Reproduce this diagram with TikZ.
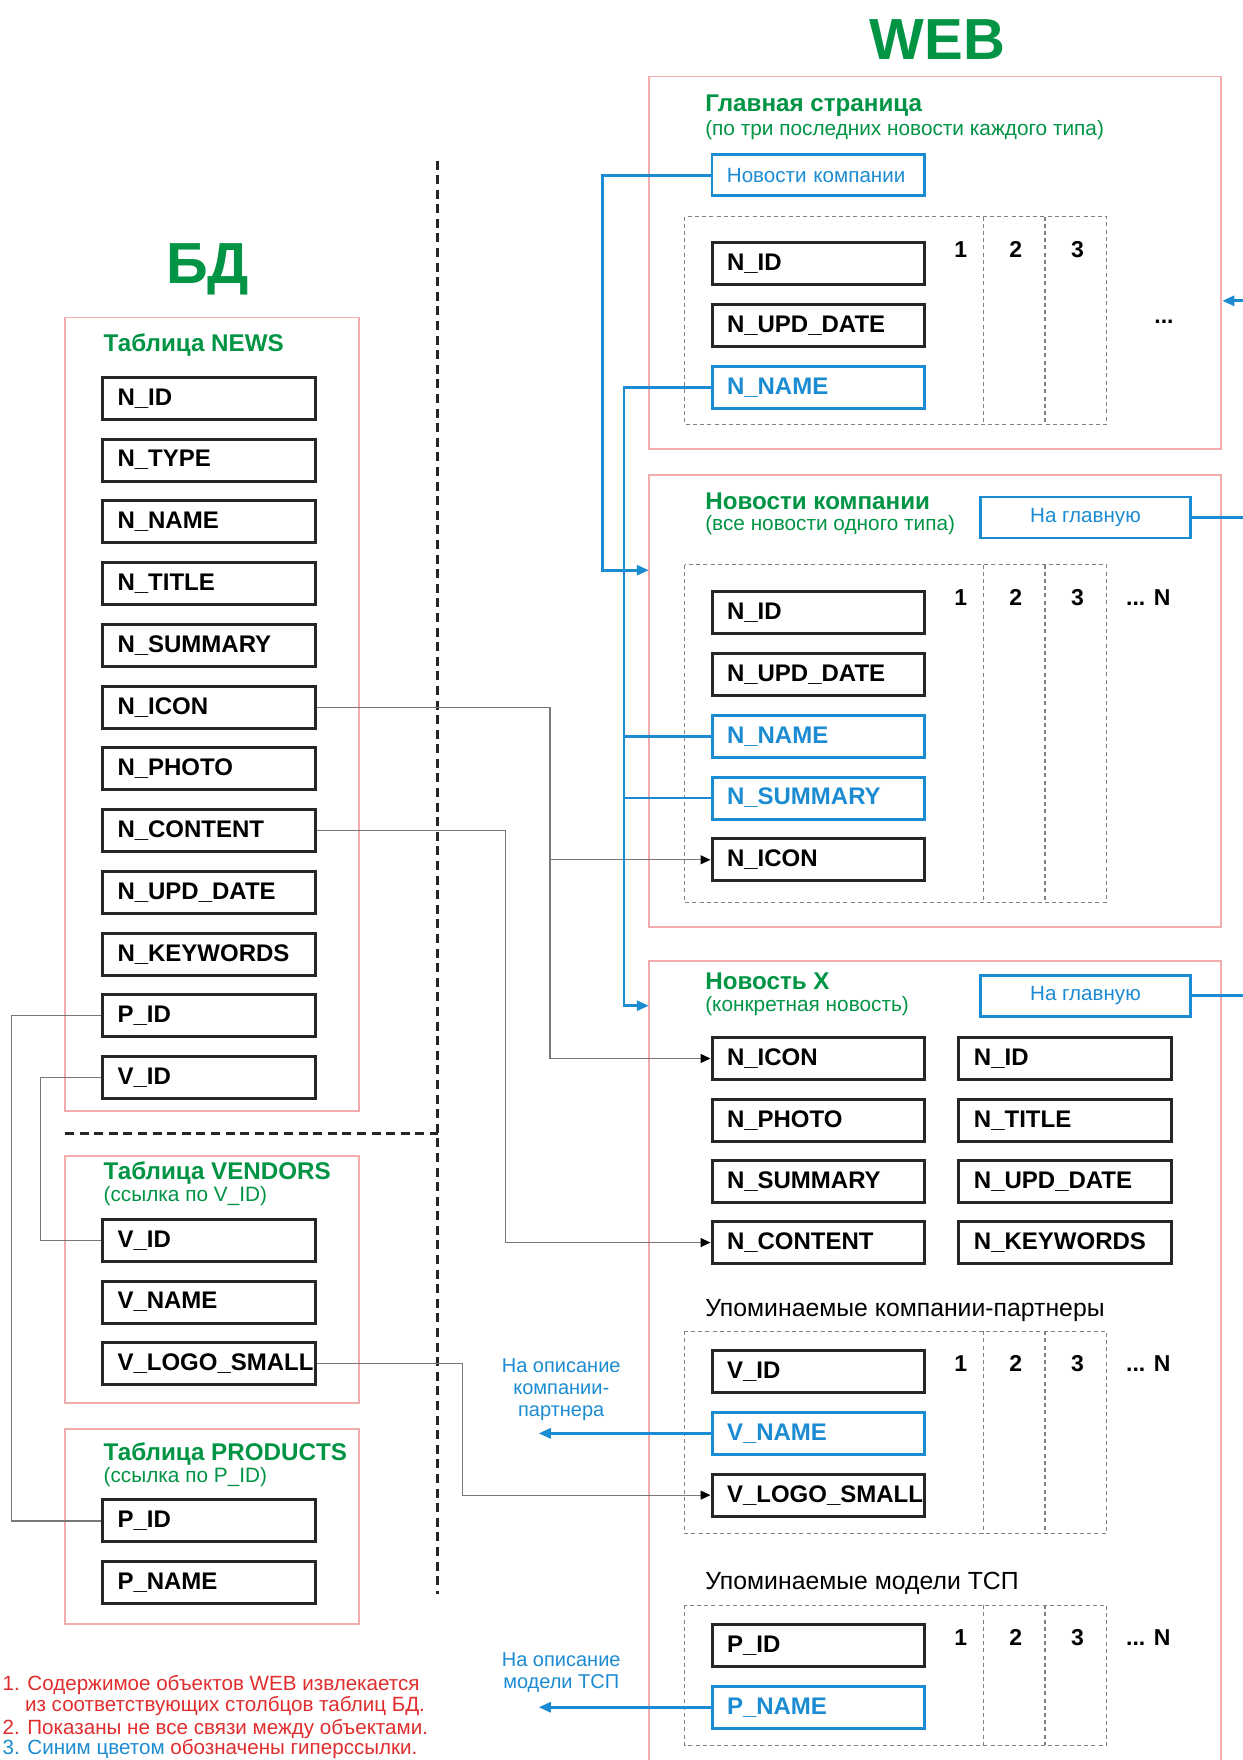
\documentclass[tikz,border=0pt]{standalone}
\usepackage{fontspec}
\setmainfont{Liberation Sans}
\usetikzlibrary{arrows.meta}
\definecolor{dgreen}{RGB}{0,148,68}
\definecolor{pinkb}{RGB}{242,172,172}
\definecolor{lblue}{RGB}{28,140,210}
\definecolor{nred}{RGB}{225,45,45}
\definecolor{gline}{RGB}{120,120,120}
\tikzset{
  fld/.style={draw=black!85, line width=1.5pt, minimum width=106.3pt, minimum height=21pt, inner xsep=7.5pt, inner ysep=0pt, text width=91.3pt, align=left, font=\fontsize{12}{13}\selectfont\bfseries, anchor=west},
  bfld/.style={fld, draw=lblue, text=lblue},
  btn/.style={draw=lblue, line width=1.4pt, minimum width=105.3pt, minimum height=20.5pt, inner ysep=0pt, text=lblue, font=\fontsize{10.3}{12}\selectfont, anchor=west},
  pinkbox/.style={draw=pinkb, line width=0.8pt},
  grp/.style={draw=gray, line width=0.6pt, dash pattern=on 2pt off 1.6pt},
  sepline/.style={draw=black!85, line width=1.6pt, dash pattern=on 4.5pt off 2.8pt},
  ttl/.style={text=dgreen, font=\fontsize{12.1}{13}\selectfont\bfseries, anchor=west, inner sep=0pt},
  sub/.style={text=dgreen, font=\fontsize{10.4}{12}\selectfont, anchor=west, inner sep=0pt},
  blk/.style={text=black, font=\fontsize{12.4}{14}\selectfont, anchor=west, inner sep=0pt},
  num/.style={font=\fontsize{11.5}{13}\selectfont\bfseries, inner sep=0pt},
  note/.style={text=nred, font=\fontsize{10.3}{11}\selectfont, anchor=west, inner sep=0pt},
  btxt/.style={text=lblue, font=\fontsize{10}{11}\selectfont, align=center, inner sep=0pt},
  gl/.style={draw=gline, line width=0.6pt},
  gla/.style={gl, -{Triangle[length=5pt,width=4.5pt,color=black]}},
  bl/.style={draw=lblue, line width=1.4pt},
  bla/.style={bl, -{Triangle[length=6pt,width=5pt]}},
  bigt/.style={text=dgreen, font=\fontsize{29}{32}\selectfont\bfseries}
}
\begin{document}
\begin{tikzpicture}[x=0.56145pt, y=-0.56145pt]
\useasboundingbox[fill=white] (0,0) rectangle (1107,1568);

% ---------- titles ----------
\node[bigt] (tbd) at (185,240) {БД};
\node[bigt] (tweb) at (835,35) {WEB};

% ---------- separators ----------
\draw[sepline] (390,143) -- (390,1420);
\draw[sepline] (58,1010) -- (390,1010);

% ---------- DB: NEWS ----------
\draw[pinkbox] (58,283) rectangle (320,990);
\node[ttl] (tnews) at (92,307) {Таблица NEWS};
\node[fld] (dnid)   at (90,355) {N\_ID};
\node[fld] (dntype) at (90,410) {N\_TYPE};
\node[fld] (dnname) at (90,465) {N\_NAME};
\node[fld] (dntitle) at (90,520) {N\_TITLE};
\node[fld] (dnsum)  at (90,575) {N\_SUMMARY};
\node[fld] (dnicon) at (90,630) {N\_ICON};
\node[fld] (dnphoto) at (90,685) {N\_PHOTO};
\node[fld] (dncont) at (90,740) {N\_CONTENT};
\node[fld] (dnupd)  at (90,795) {N\_UPD\_DATE};
\node[fld] (dnkey)  at (90,850) {N\_KEYWORDS};
\node[fld] (dnpid)  at (90,905) {P\_ID};
\node[fld] (dnvid)  at (90,960) {V\_ID};

% ---------- DB: VENDORS ----------
\draw[pinkbox] (58,1030) rectangle (320,1250);
\node[ttl] (tvend) at (92,1045) {Таблица VENDORS};
\node[sub] (svend) at (92,1066) {(ссылка по V\_ID)};
\node[fld] (vvid)   at (90,1105) {V\_ID};
\node[fld] (vvname) at (90,1160) {V\_NAME};
\node[fld] (vvlogo) at (90,1215) {V\_LOGO\_SMALL};

% ---------- DB: PRODUCTS ----------
\draw[pinkbox] (58,1273) rectangle (320,1447);
\node[ttl] (tprod) at (92,1295) {Таблица PRODUCTS};
\node[sub] (sprod) at (92,1316) {(ссылка по P\_ID)};
\node[fld] (ppid)   at (90,1355) {P\_ID};
\node[fld] (ppname) at (90,1410) {P\_NAME};

% ---------- notes ----------
\node[note] (n1a) at (2,1501) {1. Содержимое объектов WEB извлекается};
\node[note] (n1b) at (22,1520) {из соответствующих столбцов таблиц БД.};
\node[note] (n2)  at (2,1540) {2. Показаны не все связи между объектами.};
\node[note] (n3)  at (2,1558) {\textcolor{lblue}{3. Синим цветом} обозначены гиперссылки.};

% ---------- WEB: main page ----------
\draw[pinkbox] (578,68) rectangle (1088,400);
\node[ttl] (tmain) at (628,94) {Главная страница};
\node[sub] (smain) at (628,116) {(по три последних новости каждого типа)};
\node[btn, text width=91.3pt, inner xsep=7.5pt, align=left, minimum width=106.3pt] (btnnews) at (633,156) {Новости компании};
\draw[grp] (610,193) rectangle (986,378);
\draw[grp] (876,193) -- (876,378);
\draw[grp] (931,193) -- (931,378);
\node[fld]  (mnid)   at (633,235) {N\_ID};
\node[fld]  (mnupd)  at (633,290) {N\_UPD\_DATE};
\node[bfld] (mnname) at (633,345) {N\_NAME};
\node[num] (m1) at (856,222) {1};
\node[num] (m2) at (905,222) {2};
\node[num] (m3) at (960,222) {3};
\node[num] (mdots) at (1037,287) {...};

% ---------- WEB: news list ----------
\draw[pinkbox] (578,423) rectangle (1088,826);
\node[ttl] (tlist) at (628,447) {Новости компании};
\node[sub] (slist) at (628,468) {(все новости одного типа)};
\node[btn] (home1) at (872,461) {На главную};
\draw[grp] (610,503) rectangle (986,804);
\draw[grp] (876,503) -- (876,804);
\draw[grp] (931,503) -- (931,804);
\node[fld]  (lnid)   at (633,546) {N\_ID};
\node[fld]  (lnupd)  at (633,601) {N\_UPD\_DATE};
\node[bfld] (lnname) at (633,656) {N\_NAME};
\node[bfld] (lnsum)  at (633,711) {N\_SUMMARY};
\node[fld]  (lnicon) at (633,766) {N\_ICON};
\node[num] (l1) at (856,532) {1};
\node[num] (l2) at (905,532) {2};
\node[num] (l3) at (960,532) {3};
\node[num] (ln) at (1023,532) {... N};

% ---------- WEB: news item ----------
\draw[pinkbox] (578,1575) |- (1088,856) -- (1088,1575);
\node[ttl] (titem) at (628,874) {Новость X};
\node[sub] (sitem) at (628,896) {(конкретная новость)};
\node[btn] (home2) at (872,887) {На главную};
\node[fld] (xicon)  at (633,943) {N\_ICON};
\node[fld] (xphoto) at (633,998) {N\_PHOTO};
\node[fld] (xsum)   at (633,1053) {N\_SUMMARY};
\node[fld] (xcont)  at (633,1107) {N\_CONTENT};
\node[fld] (xid)    at (853,943) {N\_ID};
\node[fld] (xtitle) at (853,998) {N\_TITLE};
\node[fld] (xupd)   at (853,1053) {N\_UPD\_DATE};
\node[fld] (xkey)   at (853,1107) {N\_KEYWORDS};

\node[blk] (tpart) at (628,1168) {Упоминаемые компании-партнеры};
\draw[grp] (610,1186) rectangle (986,1366);
\draw[grp] (876,1186) -- (876,1366);
\draw[grp] (931,1186) -- (931,1366);
\node[fld]  (wvid)   at (633,1222) {V\_ID};
\node[bfld] (wvname) at (633,1277) {V\_NAME};
\node[fld]  (wvlogo) at (633,1332) {V\_LOGO\_SMALL};
\node[num] (v1) at (856,1215) {1};
\node[num] (v2) at (905,1215) {2};
\node[num] (v3) at (960,1215) {3};
\node[num] (vn) at (1023,1215) {... N};

\node[blk] (tmod) at (628,1411) {Упоминаемые модели ТСП};
\draw[grp] (610,1430) rectangle (986,1555);
\draw[grp] (876,1430) -- (876,1555);
\draw[grp] (931,1430) -- (931,1555);
\node[fld]  (wpid)   at (633,1466) {P\_ID};
\node[bfld] (wpname) at (633,1521) {P\_NAME};
\node[num] (p1) at (856,1459) {1};
\node[num] (p2) at (905,1459) {2};
\node[num] (p3) at (960,1459) {3};
\node[num] (pn) at (1023,1459) {... N};

\node[btxt] (lblpart) at (500,1238) {На описание\\компании-\\партнера};
\node[btxt] (lblmod)  at (500,1490) {На описание\\модели ТСП};

% ---------- gray connectors ----------
\coordinate (j1) at (490,630);
\coordinate (j2) at (450,740);
\coordinate (j3) at (412,1215);
\coordinate (j4) at (10,905);
\coordinate (j5) at (36,960);
\draw[gla] (dnicon.east) -- (j1) |- (xicon.west);
\draw[gla] (j1 |- lnicon.west) -- (lnicon.west);
\draw[gla] (dncont.east) -- (j2) |- (xcont.west);
\draw[gla] (vvlogo.east) -- (j3) |- (wvlogo.west);
\draw[gl] (dnpid.west) -- (j4) |- (ppid.west);
\draw[gl] (dnvid.west) -- (j5) |- (vvid.west);

% ---------- blue connectors ----------
\coordinate (b1) at (537,156);
\coordinate (a1) at (578,508);
\coordinate (b2) at (556,345);
\coordinate (a2) at (578,896);
\draw[bla] (btnnews.west) -- (b1) |- (a1);
\draw[bla] (mnname.west) -- (b2) |- (a2);
\draw[bl] (b2 |- lnname.west) -- (lnname.west);
\draw[bl] (b2 |- lnsum.west) -- (lnsum.west);

\coordinate (r1) at (1107,268);
\coordinate (r1e) at (1089,268);
\draw[bla] (r1) -- (r1e);
\draw[bl] (home1.east) -- (home1.east -| r1);
\draw[bl] (home2.east) -- (home2.east -| r1);

\coordinate (e1) at (480,1277);
\coordinate (e2) at (480,1521);
\draw[bla] (wvname.west) -- (e1);
\draw[bla] (wpname.west) -- (e2);
\end{tikzpicture}
\end{document}
